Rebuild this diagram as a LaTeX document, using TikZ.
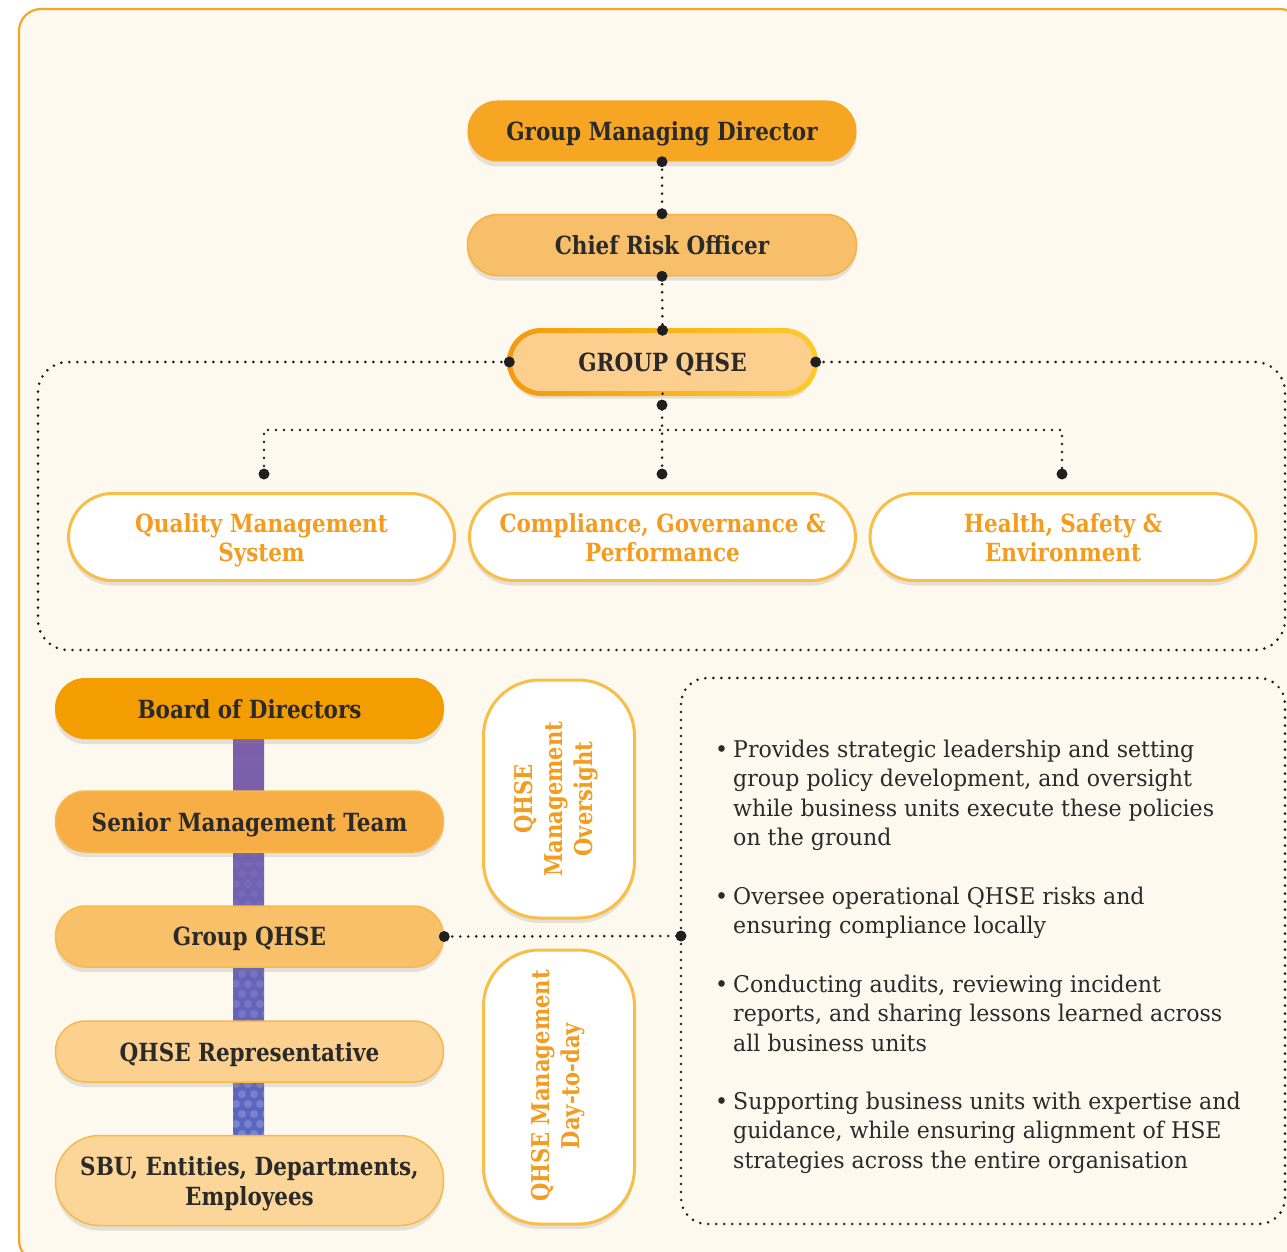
\documentclass[tikz,border=0pt]{standalone}
\usepackage{fontspec}
\setmainfont[FakeStretch=0.86]{DejaVu Serif}
\newfontfamily\bodyfont[FakeStretch=0.96]{DejaVu Serif}
\usetikzlibrary{shadows}
\definecolor{cream}{HTML}{FDF9EE}
\definecolor{frame}{HTML}{F5A623}
\definecolor{ink}{HTML}{2A2A2A}
\definecolor{dotc}{HTML}{1F1F1F}
\definecolor{gmdc}{HTML}{F6A623}
\definecolor{croc}{HTML}{F8BF6B}
\definecolor{croedge}{HTML}{F6B23E}
\definecolor{gqc}{HTML}{FCCF8E}
\definecolor{gqL}{HTML}{F39A10}
\definecolor{gqR}{HTML}{FCCB2B}
\definecolor{wedge}{HTML}{F9BE48}
\definecolor{otext}{HTML}{F39C1F}
\definecolor{bodc}{HTML}{F49D00}
\definecolor{smtc}{HTML}{F7AE44}
\definecolor{gqtwo}{HTML}{F9C06A}
\definecolor{repc}{HTML}{FCD08F}
\definecolor{sbuc}{HTML}{FCD698}
\definecolor{nedge}{HTML}{F8B94A}
\definecolor{barA}{HTML}{7E5FA8}
\definecolor{barB}{HTML}{5867C2}
\tikzset{
  softshadow/.style={drop shadow={opacity=0.2, shadow xshift=0pt, shadow yshift=-5pt}},
  pill/.style={rounded corners=30pt, minimum height=61pt, text=ink,
    font=\bfseries\fontsize{25}{30}\selectfont, align=center, inner sep=0pt,
    text depth=0pt, softshadow},
  wbox/.style={fill=white, draw=wedge, line width=3pt, rounded corners=44pt,
    minimum width=386pt, minimum height=87pt, text=otext, align=center, inner sep=0pt,
    text depth=0pt, font=\bfseries\fontsize{25}{29}\selectfont, softshadow},
  vbox/.style={fill=white, draw=wedge, line width=3pt, rounded corners=56pt,
    minimum width=151pt, inner sep=0pt, softshadow},
  vtext/.style={rotate=90, text=otext, align=center, inner sep=0pt,
    font=\bfseries\fontsize{24.5}{30}\selectfont},
  dotline/.style={draw=dotc, line width=2.9pt, dash pattern=on 0pt off 8pt, line cap=round},
  dotmark/.style={circle, fill=dotc, inner sep=0pt, minimum size=11pt},
  bullettext/.style={anchor=north west, align=left, text=ink, inner sep=0pt,
    font=\bodyfont\fontsize{23}{29.3}\selectfont}
}
\begin{document}
\begin{tikzpicture}[x=1pt,y=-1pt]
\useasboundingbox (0,0) rectangle (1287,1252);
\clip (0,0) rectangle (1287,1252);
\fill[white] (0,0) rectangle (1287,1252);
\draw[frame, line width=2.2pt, fill=cream, rounded corners=22pt] (19,9) rectangle (1302,1262);

% ---------- top chart ----------
\node[pill, fill=gmdc, minimum width=389pt] (gmd) at (662,131) {Group Managing Director};
\node[pill, fill=croc, draw=croedge, line width=1.5pt, minimum width=389pt] (cro) at (662,245) {Chief Risk Officer};
\node[pill, fill=gqc, minimum width=306pt, minimum height=63pt, rounded corners=31.5pt] (gq) at (662.5,362) {GROUP QHSE};
\shade[left color=gqL, right color=gqR, even odd rule]
  [rounded corners=34pt] (507,328) rectangle (818,396)
  [rounded corners=29pt] (512,333) rectangle (813,391);

\draw[dotline] (gmd.south) -- (cro.north);
\draw[dotline] (cro.south) -- (gq.north);
\draw[dotline, rounded corners=30pt] (gq.west) -- (38,362) -- (38,650) -- (1285,650) -- (1285,362) -- (gq.east);

\node[wbox] (qms) at (261.5,537) {Quality Management\\System};
\node[wbox] (cgp) at (662.5,537) {Compliance, Governance \&\\Performance};
\node[wbox] (hse) at (1063,537) {Health, Safety \&\\Environment};

\coordinate (gqdot) at (662,405);
\coordinate (br) at (662,430);
\coordinate (qa) at (264,474);
\coordinate (ca) at (662,474);
\coordinate (ha) at (1062,474);
\draw[dotline] (gq.south) -- (gqdot) -- (ca);
\draw[dotline] (qa) |- (br) -| (ha);

\foreach \p in {gmd.south, cro.north, cro.south, gq.north, gq.west, gq.east, gqdot, qa, ca, ha}
  \node[dotmark] at (\p) {};

% ---------- bottom left column ----------
\shade[top color=barA, bottom color=barB] (233,730) rectangle (264,1140);
\begin{scope}
  \clip (233,730) rectangle (264,1140);
  \foreach \yy [count=\i] in {744,754,...,1140} {
    \pgfmathsetmacro\op{max(0,(\yy-800)/335*0.2)}
    \pgfmathsetmacro\off{mod(\i,2)*6}
    \foreach \xx in {230,242,254,266}
      \fill[white, fill opacity=\op] (\xx+\off,\yy) circle (4pt);
  }
\end{scope}
\node[pill, fill=bodc, minimum width=389pt] (bod) at (249.5,708.5) {Board of Directors};
\node[pill, fill=smtc, draw=nedge, line width=1.5pt, minimum width=388pt] (smt) at (249.5,821.5) {Senior Management Team};
\node[pill, fill=gqtwo, draw=nedge, line width=1.5pt, minimum width=388pt] (gqb) at (249.5,936.5) {Group QHSE};
\node[pill, fill=repc, draw=nedge, line width=1.5pt, minimum width=388pt] (rep) at (249.5,1051.5) {QHSE Representative};
\node[pill, fill=sbuc, draw=nedge, line width=1.5pt, minimum width=388pt, minimum height=90pt, rounded corners=44pt] (sbu) at (249.5,1180.5) {SBU, Entities, Departments,\\Employees};

% ---------- vertical boxes ----------
\node[vbox, minimum height=238pt] (ovbox) at (559,799) {};
\node[vtext] (ovtext) at (556,799) {QHSE\\Management\\Oversight};
\node[vbox, minimum height=274pt] (ddbox) at (559,1087) {};
\node[vtext] (ddtext) at (558,1086) {QHSE Management\\Day-to-day};

% ---------- right panel ----------
\draw[dotline, rounded corners=26pt] (681,678) rectangle (1285,1224);
\coordinate (pl) at (681,936);
\draw[dotline] (gqb.east) -- (pl);
\node[dotmark] at (gqb.east) {};
\node[dotmark] at (pl) {};

\node[bullettext] (b1) at (733,740) {\llap{\textbullet\hspace{5pt}}Provides strategic leadership and setting\\group policy development, and oversight\\while business units execute these policies\\on the ground};
\node[bullettext] (b2) at (733,887) {\llap{\textbullet\hspace{5pt}}Oversee operational QHSE risks and\\ensuring compliance locally};
\node[bullettext] (b3) at (733,975) {\llap{\textbullet\hspace{5pt}}Conducting audits, reviewing incident\\reports, and sharing lessons learned across\\all business units};
\node[bullettext] (b4) at (733,1092) {\llap{\textbullet\hspace{5pt}}Supporting business units with expertise and\\guidance, while ensuring alignment of HSE\\strategies across the entire organisation};
\end{tikzpicture}
\end{document}
